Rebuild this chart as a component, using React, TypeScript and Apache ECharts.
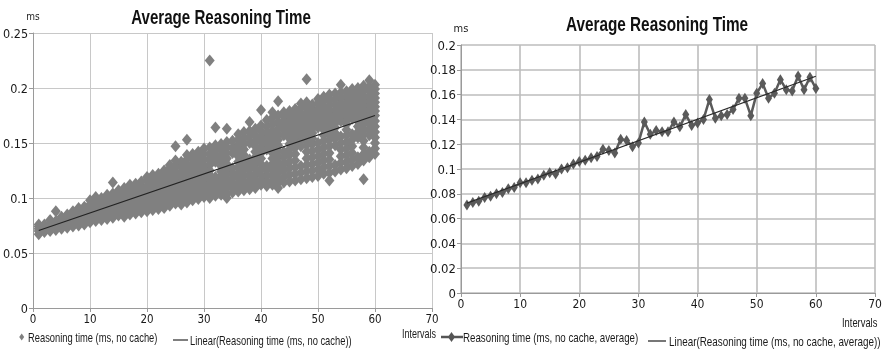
import React, { useEffect, useRef } from "react";
import * as echarts from "echarts";

const FONT = '"DejaVu Sans Condensed", "Liberation Sans", sans-serif';
const GFONT = '"Liberation Sans", Arial, sans-serif';

const chartTitle = "Average Reasoning Time";
const yUnit = "ms";
const xName = "Intervals";
const leftScatterName = "Reasoning time (ms, no cache)";
const leftTrendName = "Linear(Reasoning time (ms, no cache))";
const rightLineName = "Reasoning time (ms, no cache, average)";
const rightTrendName = "Linear(Reasoning time (ms, no cache, average))";

// Left chart: individual samples per interval (interval = index + 1), in thousandths of ms
const scatterThousandths: number[][] = [
  [67, 70, 72, 74, 76],
  [69, 71, 73, 76],
  [70, 72, 75, 77, 80],
  [71, 74, 76, 79, 88],
  [72, 75, 77, 80, 83],
  [73, 76, 79, 81, 85],
  [74, 77, 79, 82, 85, 88],
  [75, 78, 81, 83, 86, 91],
  [76, 79, 82, 85, 88, 92],
  [78, 81, 84, 87, 90, 94, 98],
  [79, 82, 85, 88, 92, 96, 101],
  [80, 83, 86, 90, 93, 97, 100],
  [81, 84, 88, 91, 94, 98, 103],
  [82, 85, 89, 92, 96, 100, 104, 114],
  [84, 87, 91, 94, 98, 102, 107],
  [83, 87, 90, 94, 97, 101, 105, 109],
  [85, 88, 92, 95, 99, 103, 107, 112],
  [86, 89, 93, 97, 100, 104, 109, 113],
  [87, 91, 94, 98, 102, 106, 110, 115],
  [88, 92, 95, 99, 103, 107, 111, 116, 119],
  [89, 92, 96, 100, 104, 108, 113, 117, 121],
  [90, 93, 97, 101, 105, 109, 114, 118, 122],
  [91, 95, 99, 103, 107, 111, 115, 120, 125],
  [93, 96, 100, 104, 108, 113, 117, 122, 127, 130],
  [95, 99, 103, 107, 111, 115, 120, 124, 129, 134, 147],
  [94, 98, 102, 106, 110, 115, 119, 123, 128, 133],
  [96, 100, 104, 108, 112, 116, 121, 125, 130, 135, 139, 153],
  [98, 101, 105, 109, 114, 118, 122, 127, 131, 136, 140],
  [99, 103, 107, 111, 115, 120, 124, 128, 133, 138, 142],
  [101, 105, 109, 113, 117, 121, 126, 130, 135, 140, 145],
  [100, 104, 108, 112, 117, 121, 125, 130, 135, 140, 146, 225],
  [102, 106, 110, 115, 119, 133, 138, 143, 148, 164],
  [103, 107, 112, 116, 120, 124, 129, 134, 139, 144, 149],
  [100, 104, 109, 113, 117, 122, 126, 131, 136, 141, 146, 151, 163],
  [105, 109, 113, 118, 122, 127, 141, 146, 152],
  [106, 110, 114, 119, 123, 128, 133, 138, 143, 148, 153, 158],
  [107, 111, 115, 120, 125, 129, 134, 139, 144, 149, 154, 160],
  [108, 112, 116, 121, 126, 131, 135, 150, 156, 161, 169],
  [109, 113, 117, 122, 127, 132, 137, 142, 147, 152, 157, 163],
  [112, 116, 121, 126, 131, 136, 141, 146, 151, 156, 161, 166, 180],
  [111, 115, 120, 125, 129, 144, 149, 154, 159, 165, 171],
  [112, 116, 121, 126, 131, 136, 141, 146, 151, 156, 161, 167, 173, 178],
  [109, 114, 118, 123, 128, 133, 138, 143, 148, 153, 158, 163, 169, 175, 188],
  [114, 119, 125, 131, 137, 142, 157, 162, 166, 170, 174, 178],
  [115, 121, 127, 133, 139, 144, 149, 154, 159, 163, 167, 171, 175, 179],
  [116, 122, 128, 134, 140, 146, 151, 156, 160, 164, 168, 172, 176, 181],
  [117, 123, 129, 147, 152, 157, 161, 165, 169, 173, 177, 182, 186],
  [118, 124, 130, 136, 142, 148, 153, 158, 162, 166, 170, 174, 178, 183, 187, 208],
  [119, 125, 131, 137, 143, 149, 154, 159, 163, 167, 171, 175, 180, 185],
  [120, 126, 132, 138, 144, 150, 164, 168, 172, 176, 181, 186, 190],
  [122, 128, 134, 140, 146, 152, 157, 162, 166, 170, 174, 178, 183, 188, 192],
  [116, 123, 129, 135, 141, 147, 153, 158, 163, 167, 171, 175, 179, 184, 189, 194],
  [124, 130, 148, 154, 159, 164, 168, 172, 176, 180, 185, 190, 195],
  [126, 132, 138, 144, 150, 156, 170, 174, 178, 182, 186, 191, 196, 203],
  [127, 133, 139, 145, 151, 157, 162, 167, 171, 175, 179, 183, 187, 192, 197],
  [129, 135, 141, 147, 153, 158, 172, 176, 180, 184, 189, 194, 199],
  [131, 137, 155, 160, 165, 170, 174, 178, 182, 186, 191, 196, 200],
  [117, 134, 140, 146, 152, 158, 163, 168, 172, 176, 180, 184, 188, 193, 198, 202],
  [137, 142, 157, 162, 167, 172, 176, 180, 184, 188, 192, 197, 201, 207],
  [140, 145, 150, 155, 160, 165, 170, 175, 179, 183, 187, 191, 195, 199, 203],
];

// Right chart: average per interval (ms)
const avgValues: number[] = [
  0.071, 0.073, 0.074, 0.077, 0.078, 0.08, 0.081, 0.084, 0.085, 0.089,
  0.089, 0.091, 0.092, 0.095, 0.097, 0.096, 0.1, 0.101, 0.104, 0.106,
  0.107, 0.109, 0.11, 0.116, 0.115, 0.113, 0.124, 0.123, 0.118, 0.121,
  0.138, 0.128, 0.131, 0.13, 0.13, 0.138, 0.134, 0.144, 0.135, 0.137,
  0.14, 0.156, 0.141, 0.143, 0.144, 0.148, 0.157, 0.157, 0.143, 0.161,
  0.169, 0.157, 0.161, 0.172, 0.164, 0.163, 0.175, 0.164, 0.174, 0.165,
];

const intervals = avgValues.map((_, i) => i + 1);

const leftYTicks = { min: 0, max: 0.25, interval: 0.05 };
const rightYTicks = { min: 0, max: 0.2, interval: 0.02 };
const xTicks = { min: 0, max: 70, interval: 10 };

function linReg(pts: number[][]) {
  const n = pts.length;
  let sx = 0, sy = 0, sxx = 0, sxy = 0;
  pts.forEach(([x, y]) => { sx += x; sy += y; sxx += x * x; sxy += x * y; });
  const b = (n * sxy - sx * sy) / (n * sxx - sx * sx);
  const a = (sy - b * sx) / n;
  const x0 = Math.min(...pts.map((p) => p[0]));
  const x1 = Math.max(...pts.map((p) => p[0]));
  return [[x0, a + b * x0], [x1, a + b * x1]];
}

const label = (text: string, x: number, y: number, size: number, sx: number, align = "left", weight = "normal", fill = "#1a1a1a") => ({
  type: "text", x, y, scaleX: sx, silent: true,
  style: { text, x: 0, y: 0, align, verticalAlign: "middle", font: `${weight} ${size}px ${GFONT}`, fill },
});

export default function App() {
  const ref = useRef<HTMLDivElement>(null);
  useEffect(() => {
    if (!ref.current) return;
    const chart = echarts.init(ref.current, undefined, { renderer: "svg" });

    const scatterPts: number[][] = [];
    scatterThousandths.forEach((vals, i) => vals.forEach((v) => scatterPts.push([intervals[i], v / 1000])));
    const avgPts = avgValues.map((v, i) => [intervals[i], v]);

    const axisCommon = (grid: number, fs: number, gridW: number, gridC: string) => ({
      gridIndex: grid,
      type: "value" as const,
      axisLine: { show: true, lineStyle: { color: "#9a9a9a", width: 1 } },
      axisTick: { show: true, length: 4, lineStyle: { color: "#9a9a9a" } },
      splitLine: { show: true, lineStyle: { color: gridC, width: gridW } },
      axisLabel: { color: "#1a1a1a", fontFamily: FONT, fontSize: fs, margin: 5 },
    });

    chart.setOption({
      animation: false,
      grid: [
        { left: 28, top: 33, width: 404, height: 275 },
        { left: 461, top: 45, width: 414, height: 248 },
      ],
      xAxis: [
        { ...axisCommon(0, 11.5, 1, "#c8c8c8"), ...xTicks },
        { ...axisCommon(1, 12, 1.6, "#bdbdbd"), ...xTicks },
      ],
      yAxis: [
        {
          ...axisCommon(0, 12.5, 1, "#c8c8c8"), ...leftYTicks,
          name: yUnit, nameLocation: "end", nameGap: 12,
          nameTextStyle: { color: "#1a1a1a", fontFamily: FONT, fontSize: 10 },
        },
        {
          ...axisCommon(1, 13, 1.6, "#bdbdbd"), ...rightYTicks,
          name: yUnit, nameLocation: "end", nameGap: 11,
          nameTextStyle: { color: "#1a1a1a", fontFamily: FONT, fontSize: 11 },
        },
      ],
      graphic: [
        label(chartTitle, 221, 17, 21, 0.72, "center", "bold", "#111"),
        label(chartTitle, 657, 24, 21, 0.73, "center", "bold", "#111"),
        label(xName, 402, 333, 12, 0.75),
        label(xName, 842, 323, 12, 0.78),
        // left legend
        { type: "polygon", silent: true, shape: { points: [[19.2, 337], [21.7, 333.5], [24.2, 337], [21.7, 340.5]] }, style: { fill: "#808080" } },
        label(leftScatterName, 28, 337.5, 12, 0.78),
        { type: "line", silent: true, shape: { x1: 173, y1: 340, x2: 188, y2: 340 }, style: { stroke: "#555", lineWidth: 1.5 } },
        label(leftTrendName, 190, 340.5, 12, 0.78),
        // right legend
        { type: "line", silent: true, shape: { x1: 441, y1: 337, x2: 463, y2: 337 }, style: { stroke: "#555", lineWidth: 2.5 } },
        { type: "polygon", silent: true, shape: { points: [[448, 337], [451.5, 332], [455, 337], [451.5, 342]] }, style: { fill: "#555" } },
        label(rightLineName, 463, 338, 12.5, 0.78),
        { type: "line", silent: true, shape: { x1: 648, y1: 341, x2: 666, y2: 341 }, style: { stroke: "#777", lineWidth: 2 } },
        label(rightTrendName, 669, 341.5, 12.5, 0.79),
      ],
      series: [
        {
          name: leftScatterName, type: "scatter", xAxisIndex: 0, yAxisIndex: 0,
          data: scatterPts, symbol: "diamond", symbolSize: [10, 12],
          itemStyle: { color: "#808080", opacity: 1 }, z: 2,
        },
        {
          name: leftTrendName, type: "line", xAxisIndex: 0, yAxisIndex: 0,
          data: linReg(scatterPts), symbol: "none",
          lineStyle: { color: "#222", width: 1.2 }, itemStyle: { color: "#555" }, z: 3,
        },
        {
          name: rightLineName, type: "line", xAxisIndex: 1, yAxisIndex: 1,
          data: avgPts, symbol: "diamond", symbolSize: [7, 11], showSymbol: true,
          lineStyle: { color: "#5a5a5a", width: 2.5 }, itemStyle: { color: "#5a5a5a", opacity: 1 }, z: 2,
        },
        {
          name: rightTrendName, type: "line", xAxisIndex: 1, yAxisIndex: 1,
          data: linReg(avgPts), symbol: "none",
          lineStyle: { color: "#2a2a2a", width: 1.2 }, itemStyle: { color: "#777" }, z: 3,
        },
      ],
    });
    return () => chart.dispose();
  }, []);
  return <div ref={ref} style={{ position: "fixed", left: 0, top: 0, width: 885, height: 354 }} />;
}
